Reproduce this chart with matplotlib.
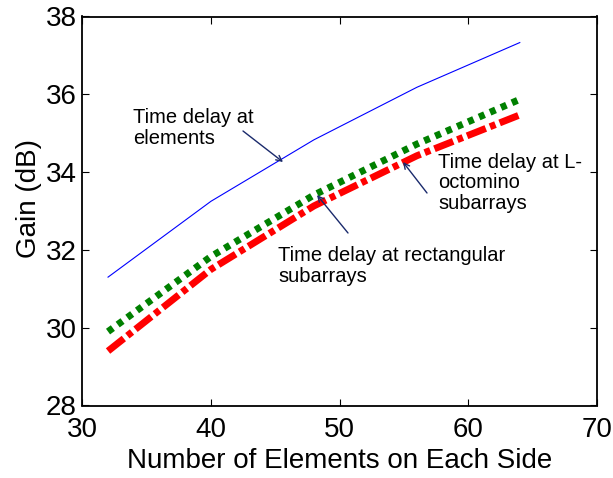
import matplotlib
matplotlib.use("Agg")
import matplotlib.pyplot as plt

# data
n_side = [32, 40, 48, 56, 64]
gain_elements = [31.3, 33.25, 34.83, 36.18, 37.33]
gain_loct = [29.9, 31.83, 33.41, 34.72, 35.87]
gain_rect = [29.4, 31.5, 33.13, 34.42, 35.47]

plt.rcParams['font.family'] = ['Liberation Sans', 'DejaVu Sans']

fig = plt.figure(figsize=(6.13, 4.78), dpi=100)
ax = fig.add_axes([82.3 / 613, 1 - 405.5 / 478, (597 - 82.3) / 613, (405.5 - 16.5) / 478])

ax.plot(n_side, gain_elements, color='blue', lw=0.8)
ax.plot(n_side, gain_loct, color='green', lw=5, linestyle=(0, (0.86, 0.86)))
ax.plot(n_side, gain_rect, color='red', lw=5, linestyle=(0, (2.9, 0.65, 0.85, 0.65)))

ax.set_xlim(30, 70)
ax.set_ylim(28, 38)
ax.set_xticks([30, 40, 50, 60, 70])
ax.set_yticks([28, 30, 32, 34, 36, 38])
ax.tick_params(direction='in', top=True, right=True, labelsize=20, length=5, width=0.8)
ax.tick_params(axis='x', pad=8)
ax.tick_params(axis='y', pad=4)
for s in ax.spines.values():
    s.set_linewidth(1.3)

ax.set_xlabel('Number of Elements on Each Side', fontsize=20, labelpad=4)
ax.set_ylabel('Gain (dB)', fontsize=20)
ax.yaxis.set_label_coords(-0.078, 0.533)

arrow = dict(arrowstyle='->', color='#1a2a6c', lw=1.0, shrinkA=0, shrinkB=0)

def px(x, y):
    return (x / 613, 1 - y / 478)

ax.annotate('Time delay at\nelements', xy=px(283, 162), xycoords='figure fraction',
            xytext=px(133, 128), textcoords='figure fraction', fontsize=14.5,
            ha='left', va='center', linespacing=1.1)
ax.annotate('', xy=px(283, 162), xycoords='figure fraction',
            xytext=px(243, 131), textcoords='figure fraction', arrowprops=arrow)

ax.annotate('Time delay at L-\noctomino\nsubarrays', xy=px(403, 162), xycoords='figure fraction',
            xytext=px(438, 183), textcoords='figure fraction', fontsize=14.5,
            ha='left', va='center', linespacing=1.1)
ax.annotate('', xy=px(403, 162), xycoords='figure fraction',
            xytext=px(427, 193), textcoords='figure fraction', arrowprops=arrow)

ax.annotate('Time delay at rectangular\nsubarrays', xy=px(317, 195), xycoords='figure fraction',
            xytext=px(278, 266), textcoords='figure fraction', fontsize=14.5,
            ha='left', va='center', linespacing=1.1)
ax.annotate('', xy=px(317, 195), xycoords='figure fraction',
            xytext=px(348, 233), textcoords='figure fraction', arrowprops=arrow)

fig.savefig('out.png', dpi=100)
